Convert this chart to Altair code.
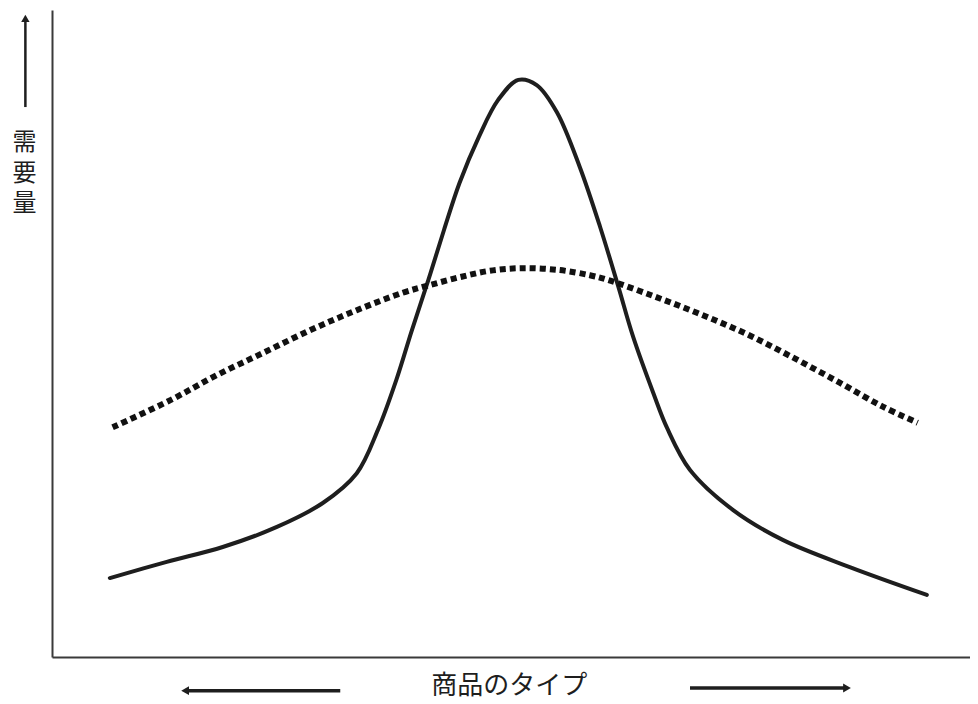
import altair as alt
import pandas as pd

# ---- data (x: 商品のタイプ 0-100, y: 需要量 0-100) ----
peaked_x = [6.3, 12.5, 18.6, 24.5, 29.5, 33.2, 35.5, 37.5, 39.2, 41.0, 42.7, 44.4, 46.5, 48.6,
            50.8, 52.8, 55.0, 57.5, 59.7, 61.7, 63.3, 65.5, 67.0, 69.5, 74.2, 79.6, 86.9, 95.3]
peaked_y = [12.2, 14.7, 17.0, 20.1, 23.8, 28.4, 35.1, 42.8, 50.5, 58.3, 66.0, 73.3, 80.4, 86.1,
            89.2, 88.4, 84.2, 75.7, 66.5, 57.2, 49.5, 40.8, 35.4, 28.9, 22.7, 18.1, 13.9, 9.6]

flat_x = [6.6, 12.9, 18.0, 23.0, 28.1, 33.2, 38.2, 41.2, 44.4, 47.7, 51.3, 55.3, 58.6,
          60.5, 65.5, 70.6, 75.7, 80.7, 85.8, 90.5, 94.3]
flat_y = [35.5, 39.7, 43.6, 47.0, 50.5, 53.6, 56.3, 57.5, 58.7, 59.7, 60.1, 59.8, 59.0,
          58.3, 55.8, 53.0, 49.9, 46.3, 42.4, 38.7, 36.2]

x_title = "商品のタイプ"
y_title = "需要量"

# annotation anchors (data units)
x_title_pos = [49.8, -4.5]
left_arrow = [31.4, 14.5, -5.2]     # x_from, x_to(head), y
right_arrow = [69.5, 86.6, -4.8]    # x_from, x_to(head), y
y_arrow = [-2.9, 85.0, 99.5]        # x, y_from, y_to(head)
y_title_x = -3.0
y_title_char_y = [79.4, 74.7, 70.0]  # centre of each stacked character

font = "Noto Sans CJK JP"
ink = "#1e1e1e"

peaked = pd.DataFrame({"x": peaked_x, "y": peaked_y})
flat = pd.DataFrame({"x": flat_x, "y": flat_y})

xs = alt.Scale(domain=[0, 100], nice=False, zero=False)
ys = alt.Scale(domain=[0, 100], nice=False, zero=False)

ax = alt.Axis(title=None, ticks=False, labels=False, grid=False,
              domainColor="#3a3a3a", domainWidth=2)

X = alt.X("x:Q", scale=xs, axis=ax)
Y = alt.Y("y:Q", scale=ys, axis=ax)

solid = alt.Chart(peaked).mark_line(
    color=ink, strokeWidth=4, interpolate="catmull-rom", strokeCap="round"
).encode(x=X, y=Y)

dotted = alt.Chart(flat).mark_line(
    color="#111111", strokeWidth=6, strokeDash=[6, 4], interpolate="catmull-rom", strokeCap="butt"
).encode(x=X, y=Y)

# x-axis title and arrows
xlab = alt.Chart(pd.DataFrame({"x": [x_title_pos[0]], "y": [x_title_pos[1]], "t": [x_title]})).mark_text(
    font=font, fontSize=26, color=ink, baseline="middle", align="center"
).encode(x=X, y=Y, text="t:N")

harrows = pd.DataFrame({
    "x": [left_arrow[0], right_arrow[0]],
    "x2": [left_arrow[1], right_arrow[1]],
    "y": [left_arrow[2], right_arrow[2]],
})
hrule = alt.Chart(harrows).mark_rule(color=ink, strokeWidth=3.5).encode(x=X, x2="x2:Q", y=Y)

heads = pd.DataFrame({
    "x": [left_arrow[1], right_arrow[1]],
    "y": [left_arrow[2], right_arrow[2]],
    "s": ["triangle-left", "triangle-right"],
})
hhead = alt.Chart(heads).mark_point(filled=True, color=ink, size=80, opacity=1).encode(
    x=X, y=Y, shape=alt.Shape("s:N", scale=None, legend=None))

# y-axis title (stacked characters) and arrow
ylab = alt.Chart(pd.DataFrame({"x": [y_title_x] * len(y_title),
                               "y": y_title_char_y,
                               "t": list(y_title)})).mark_text(
    font=font, fontSize=24, color=ink, baseline="middle", align="center"
).encode(x=X, y=Y, text="t:N")

varrow = pd.DataFrame({"x": [y_arrow[0]], "y": [y_arrow[1]], "y2": [y_arrow[2] - 0.8]})
vrule = alt.Chart(varrow).mark_rule(color=ink, strokeWidth=2.5).encode(x=X, y=Y, y2="y2:Q")
vhead = alt.Chart(pd.DataFrame({"x": [y_arrow[0]], "y": [y_arrow[2] - 0.8]})).mark_point(
    filled=True, color=ink, size=70, opacity=1, shape="triangle-up"
).encode(x=X, y=Y)

chart = alt.layer(solid, dotted, xlab, hrule, hhead, ylab, vrule, vhead).properties(
    width=918, height=647,
    padding={"left": 44, "top": 2, "right": 0, "bottom": 46},
    autosize=alt.AutoSizeParams(type="none"),
    background="white",
).configure_view(stroke=None)

chart.save("out.html", embed_options={"renderer": "svg", "actions": False})
